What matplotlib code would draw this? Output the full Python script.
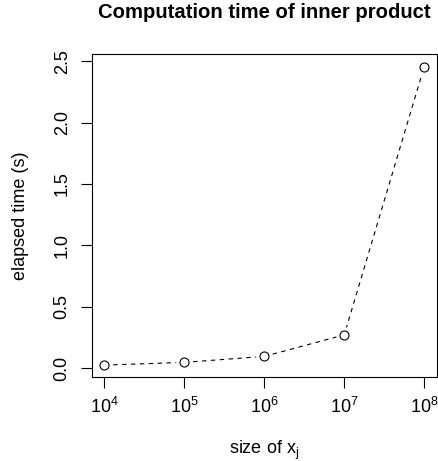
import numpy as np
import matplotlib
matplotlib.use("Agg")
import matplotlib.pyplot as plt

plt.rcParams["font.family"] = ["Liberation Sans", "DejaVu Sans"]
plt.rcParams["mathtext.fontset"] = "custom"
plt.rcParams["mathtext.rm"] = "Liberation Sans"
plt.rcParams["mathtext.it"] = "Liberation Sans"

# data
exponents = [4, 5, 6, 7, 8]
elapsed = [0.024, 0.046, 0.095, 0.27, 2.455]
tick_labels = [r"$\mathregular{10^{%d}}$" % e for e in exponents]

sizes = [10.0 ** e for e in exponents]

W, H = 438, 461
fig = plt.figure(figsize=(W / 100, H / 100), dpi=100)
ax = fig.add_axes([91.5 / W, (H - 377) / H, (437 - 91.5) / W, (377 - 54.5) / H])

ax.set_xscale("log")
ax.plot(sizes, elapsed, color="black", lw=0.8, linestyle=(0, (4, 4)), zorder=2)
# white halo so the dashed line stops short of each point (like R type="b")
ax.plot(sizes, elapsed, "o", ms=11, mfc="white", mec="white", zorder=3)
ax.plot(sizes, elapsed, "o", ms=6.5, mfc="white", mec="black", mew=0.8, zorder=4)

ax.set_xlim(10 ** 3.84, 10 ** 8.16)
ax.set_ylim(-0.073, 2.554)

ax.set_xticks(sizes)
ax.set_xticklabels(tick_labels)
ax.xaxis.set_minor_locator(matplotlib.ticker.NullLocator())
ax.set_yticks([0.0, 0.5, 1.0, 1.5, 2.0, 2.5])
ax.set_yticklabels(["0.0", "0.5", "1.0", "1.5", "2.0", "2.5"],
                   rotation=90, va="center")

ax.tick_params(direction="out", length=8, width=0.8, labelsize=13)
ax.tick_params(axis="x", pad=6)
ax.tick_params(axis="y", pad=7)
for s in ax.spines.values():
    s.set_linewidth(0.8)

ax.set_xlabel(r"size of $\mathregular{x_j}$", fontsize=13, labelpad=16)
ax.set_ylabel("elapsed time (s)", fontsize=13, labelpad=17.5)
ax.set_title("Computation time of inner product", fontsize=14.6,
             fontweight="bold", pad=26)

fig.savefig("out.png", dpi=100)
